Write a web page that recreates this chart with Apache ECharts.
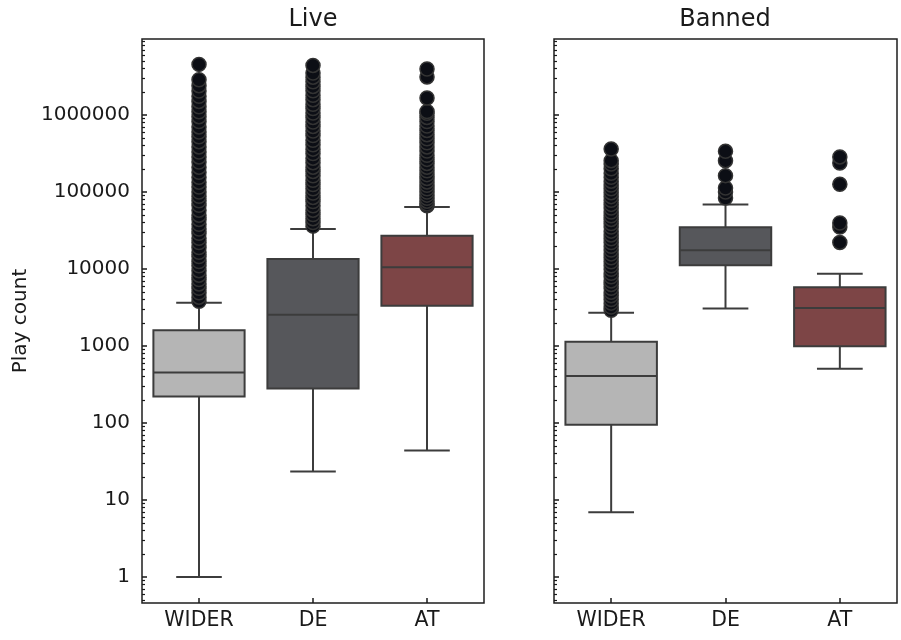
<!DOCTYPE html>
<html>
<head>
<meta charset="utf-8">
<title>Play count</title>
<script src="https://cdn.jsdelivr.net/npm/echarts@6/dist/echarts.min.js"></script>
<style>
  html, body { margin: 0; padding: 0; background: #ffffff; }
  #chart { width: 901px; height: 640px; }
</style>
</head>
<body>
<div id="chart"></div>
<script>
// Groups on the x axis
const categories = ['WIDER', 'DE', 'AT'];

// Live: box statistics per group (WIDER, DE, AT)
const liveLowerWhisker = [1, 23.5, 44];
const liveQ1 = [221, 281, 3340];
const liveMedian = [454, 2550, 10500];
const liveQ3 = [1595, 13490, 27000];
const liveUpperWhisker = [3650, 33000, 63800];

// Banned: box statistics per group (WIDER, DE, AT)
const bannedLowerWhisker = [6.9, 3077, 507];
const bannedQ1 = [95, 11140, 988];
const bannedMedian = [408, 17460, 3120];
const bannedQ3 = [1137, 34700, 5770];
const bannedUpperWhisker = [2705, 69000, 8690];

// Live outliers
const liveWiderOutliers = [3800, 4300, 4900, 5600, 6400, 7300, 8300, 9500, 11000, 12500, 14500, 16500,
  19000, 22000, 25000, 29000, 33000, 38000, 44000, 50000, 58000, 67000, 77000, 88000, 100000, 116000,
  134000, 155000, 180000, 210000, 245000, 285000, 330000, 385000, 450000, 520000, 600000, 700000,
  820000, 950000, 1100000, 1280000, 1500000, 1750000, 2050000, 2400000, 2870000, 4540000];
const liveDeOutliers = [36000, 40000, 45000, 51000, 58000, 66000, 75000, 85000, 97000, 110000, 125000,
  142000, 162000, 185000, 210000, 240000, 275000, 315000, 360000, 410000, 470000, 540000, 620000,
  710000, 810000, 930000, 1060000, 1210000, 1380000, 1580000, 1800000, 2060000, 2350000, 2700000,
  3100000, 3500000, 4400000];
const liveAtOutliers = [66000, 70000, 76000, 83000, 91000, 100000, 110000, 122000, 135000, 150000,
  168000, 188000, 210000, 235000, 265000, 300000, 340000, 385000, 435000, 490000, 555000, 630000,
  720000, 820000, 930000, 1050000, 1110000, 1660000, 3120000, 3960000];

// Banned outliers
const bannedWiderOutliers = [2900, 3200, 3600, 4000, 4500, 5000, 5600, 6300, 7000, 7900, 8800, 9900,
  11000, 12400, 14000, 15700, 17600, 19700, 22000, 24700, 27700, 31000, 35000, 39000, 44000, 49000,
  55000, 62000, 69000, 78000, 87000, 98000, 110000, 123000, 138000, 155000, 175000, 200000, 230000,
  255000, 361000];
const bannedDeOutliers = [83600, 100000, 112700, 163000, 255000, 337000];
const bannedAtOutliers = [22100, 35100, 39500, 125700, 238000, 285000];

// Log axis: labelled decades and minor ticks
const yMajorTicks = [1, 10, 100, 1000, 10000, 100000, 1000000];
const yMinorTicks = [0.5, 0.6, 0.7, 0.8, 0.9,
  2, 3, 4, 5, 6, 7, 8, 9,
  20, 30, 40, 50, 60, 70, 80, 90,
  200, 300, 400, 500, 600, 700, 800, 900,
  2000, 3000, 4000, 5000, 6000, 7000, 8000, 9000,
  20000, 30000, 40000, 50000, 60000, 70000, 80000, 90000,
  200000, 300000, 400000, 500000, 600000, 700000, 800000, 900000,
  2000000, 3000000, 4000000, 5000000, 6000000, 7000000, 8000000, 9000000];
const yMin = 0.459;
const yMax = 9.7e6;

const boxColors = ['#b5b5b5', '#56575b', '#7d4546'];
const edgeColor = '#3c3c3c';
const textColor = '#1a1a1a';
const fontFamily = 'DejaVu Sans';

function boxRows(low, q1, med, q3, high) {
  return categories.map((c, i) => [i, low[i], q1[i], med[i], q3[i], high[i]]);
}

function outlierPoints(lists) {
  const pts = [];
  lists.forEach((list, i) => list.forEach(v => pts.push([i, v])));
  return pts;
}

// Box with whiskers; caps are half the width of the box
function renderBox(params, api) {
  const i = api.value(0);
  const cx = api.coord([i, 1])[0];
  const band = api.coord([1, 1])[0] - api.coord([0, 1])[0];
  const half = band * 0.4;
  const cap = band * 0.2;
  const y = k => api.coord([i, api.value(k)])[1];
  const yLow = y(1), yQ1 = y(2), yMed = y(3), yQ3 = y(4), yHigh = y(5);
  const lineStyle = { stroke: edgeColor, lineWidth: 2 };
  return {
    type: 'group',
    children: [
      { type: 'line', shape: { x1: cx, y1: yQ3, x2: cx, y2: yHigh }, style: lineStyle },
      { type: 'line', shape: { x1: cx, y1: yQ1, x2: cx, y2: yLow }, style: lineStyle },
      { type: 'line', shape: { x1: cx - cap, y1: yHigh, x2: cx + cap, y2: yHigh }, style: lineStyle },
      { type: 'line', shape: { x1: cx - cap, y1: yLow, x2: cx + cap, y2: yLow }, style: lineStyle },
      { type: 'rect', shape: { x: cx - half, y: yQ3, width: half * 2, height: yQ1 - yQ3 },
        style: { fill: boxColors[i], stroke: edgeColor, lineWidth: 2 } },
      { type: 'line', shape: { x1: cx - half, y1: yMed, x2: cx + half, y2: yMed }, style: lineStyle }
    ]
  };
}

function xAxisFor(gridIndex) {
  return {
    type: 'category',
    gridIndex: gridIndex,
    position: 'bottom',
    data: categories,
    boundaryGap: true,
    axisLine: { show: false },
    axisTick: { show: true, inside: true, length: 5, alignWithLabel: true,
      lineStyle: { color: textColor, width: 1.5 } },
    axisLabel: { fontSize: 20.5, color: textColor, fontFamily: fontFamily, margin: 7 },
    splitLine: { show: false }
  };
}

function yMajorAxis(gridIndex, withLabels) {
  const axis = {
    type: 'log',
    gridIndex: gridIndex,
    position: 'left',
    min: yMin,
    max: yMax,
    logBase: 10,
    axisLine: { show: false },
    axisTick: { show: true, inside: true, length: 5, customValues: yMajorTicks,
      lineStyle: { color: textColor, width: 1.5 } },
    axisLabel: { show: withLabels, customValues: yMajorTicks, fontSize: 20, color: textColor,
      fontFamily: fontFamily, margin: 12, formatter: v => String(Math.round(v)) },
    splitLine: { show: false }
  };
  if (withLabels) {
    axis.name = 'Play count';
    axis.nameLocation = 'middle';
    axis.nameRotate = 90;
    axis.nameGap = 111;
    axis.nameTextStyle = { fontSize: 20, color: textColor, fontFamily: fontFamily };
  }
  return axis;
}

function yMinorAxis(gridIndex) {
  return {
    type: 'log',
    gridIndex: gridIndex,
    position: 'left',
    offset: 0,
    min: yMin,
    max: yMax,
    logBase: 10,
    axisLine: { show: false },
    axisTick: { show: true, inside: true, length: 3, customValues: yMinorTicks,
      lineStyle: { color: textColor, width: 1.2 } },
    axisLabel: { show: false },
    splitLine: { show: false }
  };
}

const outlierStyle = { color: '#0c0e15', borderColor: '#333333', borderWidth: 1.5, opacity: 1 };

const chart = echarts.init(document.getElementById('chart'), null, { renderer: 'canvas' });
chart.setOption({
  animation: false,
  backgroundColor: '#ffffff',
  textStyle: { fontFamily: fontFamily },
  title: [
    { text: 'Live', left: 313, top: 8, textAlign: 'center', padding: 0,
      textStyle: { fontSize: 24, fontWeight: 'normal', color: textColor, fontFamily: fontFamily } },
    { text: 'Banned', left: 725, top: 8, textAlign: 'center', padding: 0,
      textStyle: { fontSize: 24, fontWeight: 'normal', color: textColor, fontFamily: fontFamily } }
  ],
  grid: [
    { left: 142, top: 39, width: 342, height: 564, show: true, borderColor: '#1e1e1e', borderWidth: 1.5,
      backgroundColor: 'transparent' },
    { left: 554, top: 39, width: 343, height: 564, show: true, borderColor: '#1e1e1e', borderWidth: 1.5,
      backgroundColor: 'transparent' }
  ],
  xAxis: [xAxisFor(0), xAxisFor(1)],
  yAxis: [yMajorAxis(0, true), yMinorAxis(0), yMajorAxis(1, false), yMinorAxis(1)],
  series: [
    {
      name: 'Live',
      type: 'custom',
      xAxisIndex: 0,
      yAxisIndex: 0,
      renderItem: renderBox,
      encode: { x: 0, y: [1, 2, 3, 4, 5] },
      data: boxRows(liveLowerWhisker, liveQ1, liveMedian, liveQ3, liveUpperWhisker),
      z: 2
    },
    {
      name: 'Live outliers',
      type: 'scatter',
      xAxisIndex: 0,
      yAxisIndex: 0,
      symbol: 'circle',
      symbolSize: 14,
      itemStyle: outlierStyle,
      data: outlierPoints([liveWiderOutliers, liveDeOutliers, liveAtOutliers]),
      z: 3
    },
    {
      name: 'Banned',
      type: 'custom',
      xAxisIndex: 1,
      yAxisIndex: 2,
      renderItem: renderBox,
      encode: { x: 0, y: [1, 2, 3, 4, 5] },
      data: boxRows(bannedLowerWhisker, bannedQ1, bannedMedian, bannedQ3, bannedUpperWhisker),
      z: 2
    },
    {
      name: 'Banned outliers',
      type: 'scatter',
      xAxisIndex: 1,
      yAxisIndex: 2,
      symbol: 'circle',
      symbolSize: 14,
      itemStyle: outlierStyle,
      data: outlierPoints([bannedWiderOutliers, bannedDeOutliers, bannedAtOutliers]),
      z: 3
    }
  ]
});
</script>
</body>
</html>
